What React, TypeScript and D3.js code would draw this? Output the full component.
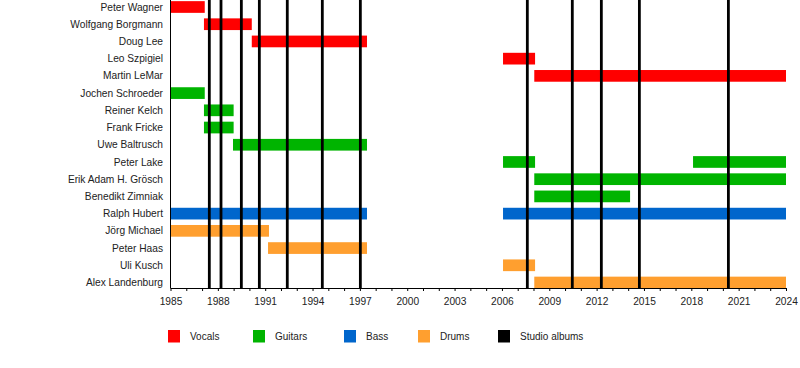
import React from 'react';
import * as d3 from 'd3';

const members = [
  'Peter Wagner', 'Wolfgang Borgmann', 'Doug Lee', 'Leo Szpigiel', 'Martin LeMar',
  'Jochen Schroeder', 'Reiner Kelch', 'Frank Fricke', 'Uwe Baltrusch', 'Peter Lake',
  'Erik Adam H. Grösch', 'Benedikt Zimniak', 'Ralph Hubert', 'Jörg Michael',
  'Peter Haas', 'Uli Kusch', 'Alex Landenburg',
];

// [member, role, start, end]
const stints: [string, string, number, number][] = [
  ['Peter Wagner', 'Vocals', 1985, 1987.17],
  ['Wolfgang Borgmann', 'Vocals', 1987.12, 1990.15],
  ['Doug Lee', 'Vocals', 1990.15, 1997.45],
  ['Leo Szpigiel', 'Vocals', 2006.07, 2008.1],
  ['Martin LeMar', 'Vocals', 2008.05, 2024],
  ['Jochen Schroeder', 'Guitars', 1985, 1987.17],
  ['Reiner Kelch', 'Guitars', 1987.12, 1989.0],
  ['Frank Fricke', 'Guitars', 1987.12, 1989.0],
  ['Uwe Baltrusch', 'Guitars', 1988.96, 1997.45],
  ['Peter Lake', 'Guitars', 2006.07, 2008.1],
  ['Peter Lake', 'Guitars', 2018.11, 2024],
  ['Erik Adam H. Grösch', 'Guitars', 2008.05, 2024],
  ['Benedikt Zimniak', 'Guitars', 2008.05, 2014.12],
  ['Ralph Hubert', 'Bass', 1985, 1997.45],
  ['Ralph Hubert', 'Bass', 2006.07, 2024],
  ['Jörg Michael', 'Drums', 1985, 1991.24],
  ['Peter Haas', 'Drums', 1991.18, 1997.45],
  ['Uli Kusch', 'Drums', 2006.07, 2008.1],
  ['Alex Landenburg', 'Drums', 2008.05, 2024],
];

const albums = [1987.46, 1988.2, 1989.49, 1990.63, 1992.4, 1994.62, 1997.03,
  2007.61, 2010.46, 2012.3, 2014.71, 2020.35];

const roles = ['Vocals', 'Guitars', 'Bass', 'Drums', 'Studio albums'];
const roleColors = ['#ff0000', '#00b400', '#0066cc', '#ff9f2f', '#000000'];
const legendX = [168, 253, 344, 418, 498];

export default function App() {
  const ref = React.useRef<SVGSVGElement>(null);

  React.useEffect(() => {
    const svg = d3.select(ref.current);
    svg.selectAll('*').remove();

    const x = d3.scaleLinear().domain([1985, 2024]).range([170.5, 786]);
    const y = d3.scalePoint<string>().domain(members).range([7, 282.5]);
    const color = d3.scaleOrdinal<string, string>().domain(roles).range(roleColors);
    const barH = 11.7;
    const axisY = 288;

    svg.append('g')
      .selectAll('rect')
      .data(stints)
      .enter().append('rect')
      .attr('x', d => x(d[2]))
      .attr('width', d => x(d[3]) - x(d[2]))
      .attr('y', d => (y(d[0]) as number) - barH / 2)
      .attr('height', barH)
      .attr('fill', d => color(d[1]));

    svg.append('g')
      .selectAll('line')
      .data(albums)
      .enter().append('line')
      .attr('x1', d => x(d)).attr('x2', d => x(d))
      .attr('y1', 0).attr('y2', axisY)
      .attr('stroke', '#000')
      .attr('stroke-width', 2.8);

    // left axis line
    svg.append('line')
      .attr('x1', 170.5).attr('x2', 170.5)
      .attr('y1', 0).attr('y2', axisY)
      .attr('stroke', '#000').attr('stroke-width', 1);

    svg.append('g')
      .selectAll('text')
      .data(members)
      .enter().append('text')
      .attr('x', 163)
      .attr('y', d => y(d) as number)
      .attr('dy', '0.35em')
      .attr('text-anchor', 'end')
      .attr('font-family', 'Liberation Sans, Arial, sans-serif')
      .attr('font-size', 10.2)
      .attr('fill', '#222')
      .text(d => d);

    const xAxis = d3.axisBottom(x)
      .tickValues(d3.range(1985, 2025, 1))
      .tickSize(3)
      .tickFormat(d => ((+d - 1985) % 3 === 0 ? String(d) : ''));

    const ax = svg.append('g')
      .attr('transform', `translate(0,${axisY})`)
      .call(xAxis);
    ax.select('.domain').attr('stroke', '#000').attr('d', `M170.5,0.5H786`);
    ax.selectAll('.tick line').attr('stroke', '#000');
    ax.selectAll('.tick text')
      .attr('y', 10)
      .attr('font-family', 'Liberation Sans, Arial, sans-serif')
      .attr('font-size', 10.2)
      .attr('fill', '#222');

    const leg = svg.append('g')
      .selectAll('g')
      .data(roles)
      .enter().append('g')
      .attr('transform', (d, i) => `translate(${legendX[i]},330)`);
    leg.append('rect')
      .attr('width', 12).attr('height', 12.5)
      .attr('fill', d => color(d));
    leg.append('text')
      .attr('x', 22).attr('y', 6.5)
      .attr('dy', '0.35em')
      .attr('font-family', 'Liberation Sans, Arial, sans-serif')
      .attr('font-size', 10)
      .attr('fill', '#222')
      .text(d => d);
  }, []);

  return (
    <svg ref={ref} width={800} height={368}
      style={{ position: 'absolute', left: 0, top: 0, background: '#fff' }} />
  );
}
